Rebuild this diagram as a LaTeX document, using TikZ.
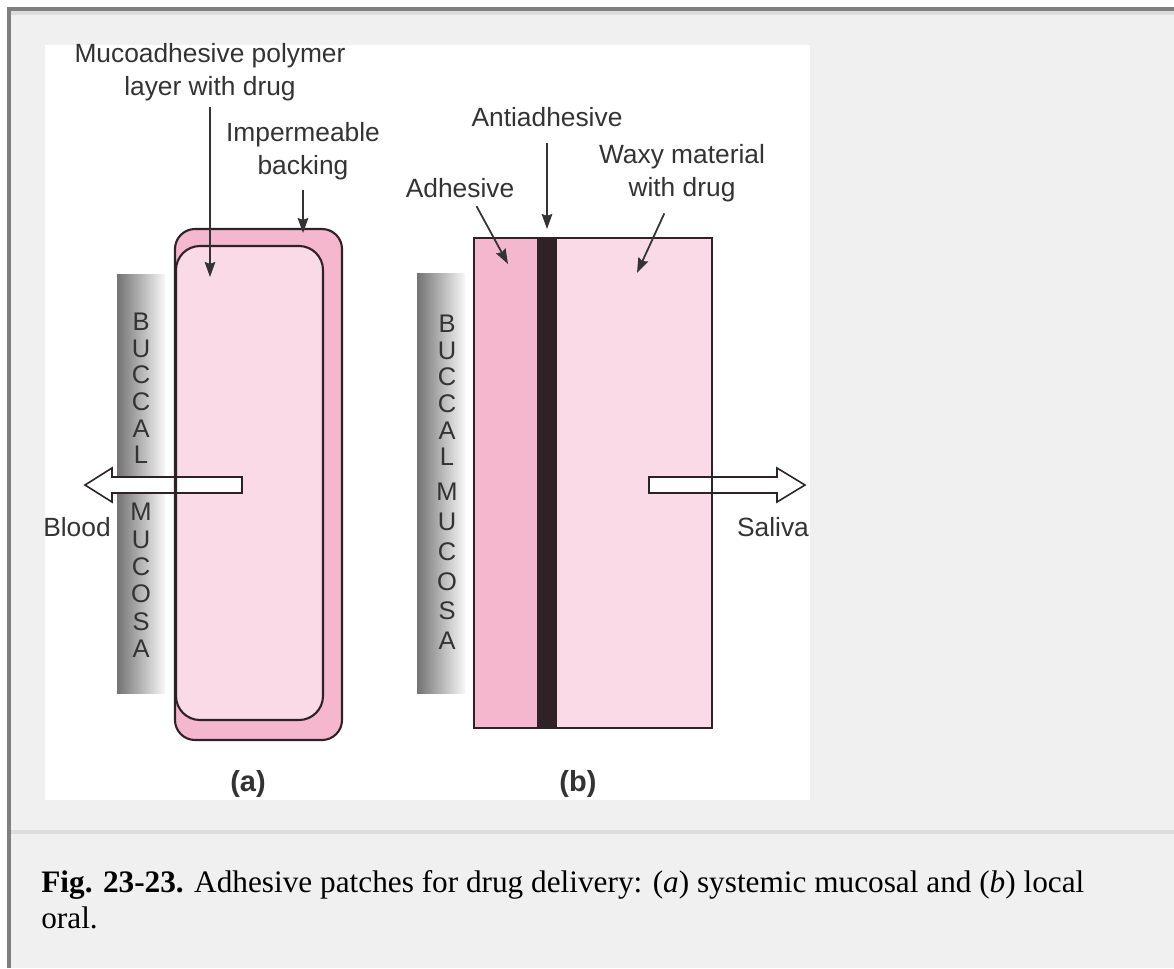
\documentclass[tikz,border=0pt]{standalone}
\usepackage{fontspec}
\setmainfont{Liberation Serif}
\setsansfont{Liberation Sans}
\usetikzlibrary{arrows.meta}
\definecolor{page}{HTML}{F0F0F0}
\definecolor{frame}{HTML}{7F7F7F}
\definecolor{rule}{HTML}{DCDCDC}
\definecolor{pinkdeep}{HTML}{F5B7CE}
\definecolor{pinklight}{HTML}{FADAE7}
\definecolor{edge}{HTML}{2E2227}
\definecolor{ink}{HTML}{333333}

\begin{document}
\begin{tikzpicture}[x=0.02cm,y=-0.02cm,
	lbl/.style={font=\sffamily\fontsize{15}{18.5}\selectfont,text=ink,align=center,inner sep=2pt},
	letter/.style={font=\sffamily\fontsize{14.5}{14.5}\selectfont,text=ink,inner sep=0pt},
	panel/.style={font=\sffamily\bfseries\fontsize{16.5}{16.5}\selectfont,text=ink},
	leader/.style={draw=ink,line width=1pt,-{Stealth[length=8.5pt,width=6pt,inset=1pt]}},
	patch/.style={draw=edge,line width=1.2pt},
	blockarrow/.style={draw=edge,fill=white,line width=0.9pt,line join=miter},
	]
	\useasboundingbox (0,0) rectangle (1174,968);
	%page
	\fill[white] (0,0) rectangle (1174,968);
	\fill[page] (7,7) rectangle (1174,968);
	\fill[frame] (7,7) rectangle (1174,11);
	\fill[frame] (7,7) rectangle (11,968);
	\fill[rule] (11,11) rectangle (1174,15);
	\fill[white] (45,45) rectangle (810,800);
	\fill[rule] (11,830) rectangle (1174,834);
	%mucosa
	\shade[left color=black!55,right color=black!3] (117,274) rectangle (165,693);
	\shade[left color=black!55,right color=black!3] (417,273) rectangle (465,693);
	\foreach \c [count=\i from 0] in {B,U,C,C,A,L}{
		\node[letter] (bua\i) at (141,322+26.6*\i) {\c};
		\node[letter] (bub\i) at (447,324+26.6*\i) {\c};
	}
	\foreach \c [count=\i from 0] in {M,U,C,O,S,A}{
		\node[letter] (mua\i) at (141,512+27.4*\i) {\c};
		\node[letter] (mub\i) at (447,492+29.8*\i) {\c};
	}
	%patch a
	\fill[pinkdeep,rounded corners=0.4cm] (175,229) rectangle (342,740);
	\fill[pinklight,rounded corners=0.48cm] (176,246) rectangle (323,720);
	%patch b
	\fill[pinkdeep] (474,238) rectangle (537,728);
	\fill[pinklight] (557,238) rectangle (712,728);
	\fill[edge] (537,238) rectangle (557,728);
	%flow arrows
	\draw[blockarrow] (242,477) -- (112,477) -- (112,468) -- (85,485) -- (112,502) -- (112,493) -- (242,493) -- cycle;
	\draw[blockarrow] (649,477) -- (777,477) -- (777,468) -- (805,485) -- (777,502) -- (777,493) -- (649,493) -- cycle;
	%outlines
	\draw[patch,rounded corners=0.4cm] (175,229) rectangle (342,740);
	\draw[patch,rounded corners=0.48cm] (176,246) rectangle (323,720);
	\draw[patch] (474,238) rectangle (712,728);
	%labels
	\node[lbl] (muco) at (210,72) {Mucoadhesive polymer\\layer with drug};
	\node[lbl] (backing) at (303,151) {Impermeable\\backing};
	\node[lbl] (anti) at (547,117) {Antiadhesive};
	\node[lbl] (adh) at (460,188) {Adhesive};
	\node[lbl] (waxy) at (682,173) {Waxy material\\with drug};
	\node[lbl] (blood) at (77,527) {Blood};
	\node[lbl] (saliva) at (773,527) {Saliva};
	\coordinate (mucotip) at (210,277);
	\coordinate (backtip) at (303,233);
	\coordinate (antitip) at (547,229);
	\coordinate (adhtip) at (508,264);
	\coordinate (waxytip) at (637,273);
	\draw[leader,shorten <=1.5pt] (muco.south) -- (mucotip);
	\draw[leader,shorten <=4pt] (backing.south) -- (backtip);
	\draw[leader,shorten <=7pt] (anti.south) -- (antitip);
	\draw[leader,shorten <=3pt] ([xshift=0.28cm]adh.south) -- (adhtip);
	\draw[leader,shorten <=5pt] ([xshift=-0.28cm]waxy.south) -- (waxytip);
	\node[panel] (capa) at (248,784) {(a)};
	\node[panel] (capb) at (578,784) {(b)};
	%caption
	\node[anchor=north west,inner sep=0pt,align=left,font=\fontsize{17.8}{20.5}\selectfont] (caption) at (41,870)
		{\textbf{Fig. 23-23.} Adhesive patches for drug delivery: (\textit{a}) systemic mucosal and (\textit{b}) local\\oral.};
\end{tikzpicture}
\end{document}
